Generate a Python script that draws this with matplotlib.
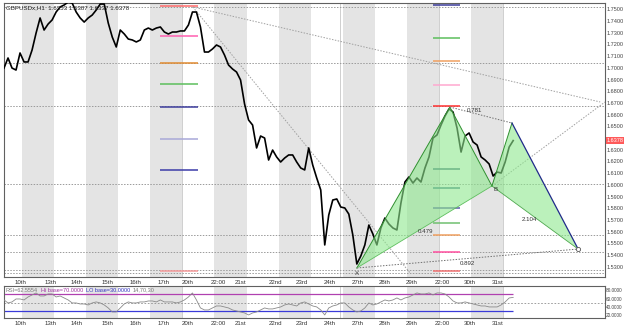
import numpy as np
import matplotlib.pyplot as plt

plt.rcParams['font.family'] = ['Liberation Sans', 'DejaVu Sans']

# GBPUSD closes, one value per 3 hours (10th .. 31st)
close = [1.6998, 1.7084, 1.6998, 1.6981, 1.7127, 1.7050, 1.7050, 1.7152, 1.7297, 1.7426,
         1.7323, 1.7374, 1.7409, 1.7477, 1.7520, 1.7537, 1.7562, 1.7554, 1.7477, 1.7426,
         1.7391, 1.7426, 1.7451, 1.7494, 1.7545, 1.7545, 1.7383, 1.7263, 1.7178, 1.7323,
         1.7289, 1.7246, 1.7238, 1.7221, 1.7238, 1.7323, 1.7340, 1.7323, 1.7340, 1.7349,
         1.7306, 1.7289, 1.7306, 1.7306, 1.7315, 1.7315, 1.7366, 1.7477, 1.7477, 1.7349,
         1.7135, 1.7135, 1.7161, 1.7195, 1.7178, 1.7109, 1.7024, 1.6990, 1.6964, 1.6896,
         1.6691, 1.6554, 1.6511, 1.6315, 1.6417, 1.6400, 1.6212, 1.6297, 1.6238, 1.6195,
         1.6229, 1.6255, 1.6255, 1.6195, 1.6144, 1.6127, 1.6315, 1.6169, 1.6058, 1.5956,
         1.5486, 1.5742, 1.5870, 1.5879, 1.5810, 1.5802, 1.5750, 1.5571, 1.5323, 1.5392,
         1.5486, 1.5656, 1.5580, 1.5486, 1.5631, 1.5716, 1.5665, 1.5631, 1.5614, 1.5844,
         1.6024, 1.6067, 1.6015, 1.6058, 1.6024, 1.6144, 1.6238, 1.6400, 1.6426, 1.6511,
         1.6588, 1.6648, 1.6622, 1.6485, 1.6280, 1.6417, 1.6443, 1.6366, 1.6340, 1.6238,
         1.6212, 1.6178, 1.6075, 1.6109, 1.6101, 1.6195, 1.6323, 1.6378]

rsi = [56.6, 49.5, 51.9, 58.9, 58.9, 56.6, 63.6, 68.4, 73.1, 66.0,
       66.0, 70.7, 70.7, 63.6, 66.0, 61.3, 56.6, 49.5, 49.5, 47.1,
       47.1, 44.8, 49.5, 51.9, 49.5, 44.8, 37.7, 28.3, 28.3, 37.7,
       47.1, 51.9, 49.5, 49.5, 51.9, 51.9, 54.2, 54.2, 51.9, 56.6,
       51.9, 51.9, 51.9, 49.5, 51.9, 56.6, 63.6, 73.1, 56.6, 37.7,
       33.0, 33.0, 37.7, 42.4, 42.4, 40.1, 37.7, 33.0, 30.6, 28.3,
       25.9, 21.2, 25.9, 28.3, 33.0, 37.7, 35.4, 35.4, 37.7, 40.1,
       44.8, 47.1, 44.8, 42.4, 49.5, 51.9, 47.1, 42.4, 40.1, 33.0,
       21.2, 37.7, 42.4, 44.8, 49.5, 49.5, 40.1, 33.0, 28.3, 30.6,
       37.7, 49.5, 44.8, 47.1, 51.9, 56.6, 54.2, 56.6, 61.3, 56.6,
       61.3, 63.6, 68.4, 73.1, 70.7, 70.7, 73.1, 68.4, 73.1, 73.1,
       70.7, 63.6, 54.2, 49.5, 49.5, 51.9, 49.5, 47.1, 44.8, 42.4,
       42.4, 40.1, 40.1, 40.1, 44.8, 51.9, 61.3, 62.6]

tick_pos = [4.0, 11.5, 18.2, 25.7, 32.7, 39.7, 45.9, 53.4, 58.9, 67.6,
            74.3, 81.3, 88.3, 95.0, 101.8, 109.3, 116.2, 123.0]
tick_lbl = ['10th', '13th', '14th', '15th', '16th', '17th', '20th', '22:00', '21st',
            '22nd', '23rd', '24th', '27th', '28th', '29th', '22:00', '30th', '31st']

# harmonic pattern X A B C D (sample index, price)
pat_x = [88.0, 111.2, 121.7, 126.7, 143.2]
pat_p = [1.5289, 1.6665, 1.5990, 1.6528, 1.5451]
pat_ratio = ['0.479', '0.781', '2.104', '0.892']

# horizontal user lines
hlines_p = [1.7522, 1.7038, 1.6673, 1.6007, 1.5571, 1.5426, 1.5272, 1.5246]

# fibo level sets
lvl1_p = [1.7528, 1.7272, 1.7041, 1.6861, 1.6665, 1.6391, 1.6126, 1.5263]
lvl2_p = [1.7541, 1.7255, 1.7058, 1.6852, 1.6673, 1.6135, 1.5973, 1.5802,
          1.5674, 1.5571, 1.5426, 1.5263]

# trend lines: (x0, p0, x1, p1)
trends = [(47.1, 1.7520, 148.7, 1.6708),
          (47.1, 1.7520, 101.3, 1.5246),
          (121.7, 1.5990, 149.9, 1.6708)]

last_price = 1.6378

W, H = 625, 332
fig = plt.figure(figsize=(W / 100, H / 100), dpi=100)
ax = fig.add_axes([4 / W, 1 - 277 / H, 601 / W, 274 / H])
ax2 = fig.add_axes([4 / W, 1 - 318 / H, 601 / W, 32 / H])

fs = 4.4
fy = 4.0
grey_dot = (0, (1.5, 1.5))
x = np.arange(len(close))

for a in (ax, ax2):
    for k in range(8):
        a.axvspan(4.5 + 16 * k, 12.5 + 16 * k, color='#e4e4e4', lw=0, zorder=0)
    for xv in (44.4, 83.8, 108.5, 124.5):
        a.axvline(xv, color='#c8c8c8', lw=0.6, zorder=0.5)
    for s in a.spines.values():
        s.set_color('#606060')
        s.set_linewidth(0.8)
    a.set_xlim(0, 149.9)
    a.set_xticks(tick_pos, tick_lbl)
    a.tick_params(axis='x', length=0, pad=2.5, labelsize=fs, labelcolor='#333333')
    a.yaxis.tick_right()
    a.tick_params(axis='y', length=0, pad=1.2, labelsize=fy, labelcolor='#444444')

# main price panel
ax.set_ylim(1.5212, 1.7554)
yt = [round(v, 2) for v in np.arange(1.53, 1.7501, 0.01) if abs(v - 1.64) > 0.001]
ax.set_yticks(yt, [f'{v:.4f}' for v in yt])

for p in hlines_p:
    ax.axhline(p, color='#9a9a9a', ls=grey_dot, lw=0.7, zorder=1)

for x0, p0, x1, p1 in trends:
    ax.plot([x0, x1], [p0, p1], color='#a0a0a0', ls=grey_dot, lw=0.7, zorder=1)

lvl1_c = ['#ff6a6a', '#ff5fb0', '#e08a30', '#5cbf5c', '#3c3c9c', '#a8a8d8', '#3c3ca8', '#f59a9a']
lvl2_c = ['#3c3c9c', '#5cbf5c', '#f0a060', '#ffa8d0', '#ff3030', '#3c6c7c', '#3c7888',
          '#5a5aaa', '#70c070', '#f0a060', '#ff4f9f', '#f07070']
ax.hlines(lvl1_p, 38.9, 48.4, colors=lvl1_c, lw=1.1, zorder=2)
ax.hlines(lvl2_p, 107.0, 113.7, colors=lvl2_c, lw=1.1, zorder=2)

ax.plot(x, close, color='black', lw=1.2, zorder=3)

X, A, B, C, D = zip(pat_x, pat_p)
ax.fill([X[0], A[0], B[0]], [X[1], A[1], B[1]], color='#8ee88e', alpha=0.6, lw=0, zorder=4)
ax.fill([B[0], C[0], D[0]], [B[1], C[1], D[1]], color='#8ee88e', alpha=0.6, lw=0, zorder=4)
ax.plot([X[0], A[0], B[0]], [X[1], A[1], B[1]], color='#2f8f2f', lw=0.7, zorder=5)
ax.plot([X[0], B[0]], [X[1], B[1]], color='#5fbf5f', lw=0.6, zorder=5)
ax.plot([B[0], C[0]], [B[1], C[1]], color='#2f8f2f', lw=0.7, zorder=5)
ax.plot([C[0], D[0]], [C[1], D[1]], color='#202a8a', lw=0.9, zorder=5)
ax.plot([B[0], D[0]], [B[1], D[1]], color='#4fa84f', lw=0.6, zorder=5)
ax.plot([A[0], C[0]], [A[1], C[1]], color='#707070', ls=grey_dot, lw=0.7, zorder=5)
ax.plot([X[0], D[0]], [X[1], D[1]], color='#707070', ls=grey_dot, lw=0.7, zorder=5)
ax.plot(D[0], D[1], 'o', ms=3, mfc='white', mec='#555555', mew=0.6, zorder=6)

pairs = [(X, B, 0.4, -0.004), (A, C, -1.5, 0.004), (B, D, -1.5, -0.002), (X, D, 0, -0.004)]
for (p, q, dx, dp), r in zip(pairs, pat_ratio):
    ax.text((p[0] + q[0]) / 2 + dx, (p[1] + q[1]) / 2 + dp, r, fontsize=fs,
            color='#333333', ha='center', va='center', zorder=7)
ax.text(X[0], X[1] - 0.0025, 'X', fontsize=fs, ha='center', va='top', color='#333333', zorder=7)
ax.text(B[0] + 0.4, B[1] - 0.001, 'B', fontsize=fs, ha='left', va='top', color='#333333', zorder=7)

ax.annotate(f'{last_price:.4f}', xy=(1, last_price), xycoords=('axes fraction', 'data'),
            xytext=(1, 0), textcoords='offset points', fontsize=fy, color='white',
            va='center', ha='left', annotation_clip=False,
            bbox=dict(fc='#ff5a5a', ec='none', pad=0.5), zorder=8)

ax.text(0.004, 0.992, 'GBPUSDx,H1  1.6353 1.6387 1.6337 1.6378', transform=ax.transAxes,
        fontsize=fs, va='top', ha='left', color='#222222', zorder=8)

# RSI panel
ax2.set_ylim(14, 89.5)
ax2.set_yticks([20, 40, 60, 80], ['20.0000', '40.0000', '60.0000', '80.0000'])
ax2.tick_params(axis='y', labelsize=3.4, pad=0.8)
ax2.axhline(50, color='#909090', ls=(0, (2, 2)), lw=0.6, zorder=1)
ax2.hlines(70, 0, len(rsi) - 1, color='#b040b0', lw=0.9, zorder=2)
ax2.hlines(30, 0, len(rsi) - 1, color='#3a3ad8', lw=0.9, zorder=2)
ax2.plot(np.arange(len(rsi)), rsi, color='#8a8a8a', lw=0.6, zorder=3)

parts = [('RSI=62.5554', '#777777'), ('Hi base=70.0000', '#a030a0'),
         ('LO base=30.0000', '#3030c0'), ('14,70,30', '#777777')]
t = ax2.text(0.003, 0.95, parts[0][0], transform=ax2.transAxes, fontsize=fy,
             va='top', color=parts[0][1], zorder=5)
for s, c in parts[1:]:
    t = ax2.annotate(s, xy=(1, 0), xycoords=t, xytext=(2, 0), textcoords='offset points',
                     fontsize=fy, va='bottom', ha='left', color=c, zorder=5)

fig.savefig('out.png', dpi=100)
